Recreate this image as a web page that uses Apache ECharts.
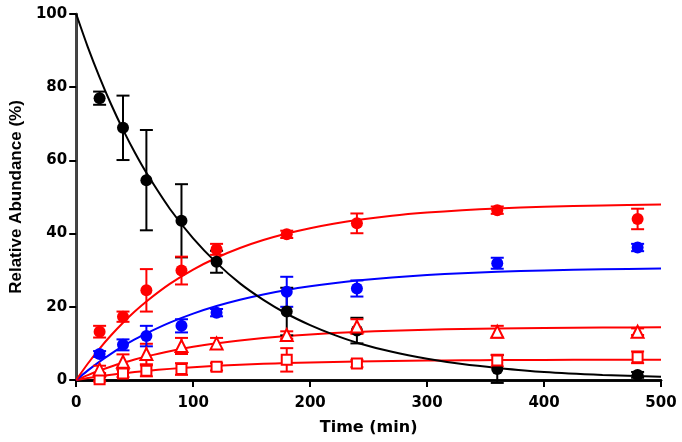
<!DOCTYPE html>
<html>
<head>
<meta charset="utf-8">
<script src="https://cdn.jsdelivr.net/npm/echarts@6/dist/echarts.min.js"></script>
<style>html,body{margin:0;padding:0;background:#fff}#c{width:682px;height:442px}</style>
</head>
<body>
<div id="c"></div>
<script>
// Measurement times (min)
var times = [20, 40, 60, 90, 120, 180, 240, 360, 480];
// Measured means and error (±)
var blackMean = [77.0, 68.9, 54.6, 43.5, 32.3, 18.7, 13.5, 3.0, 1.4];
var blackErr  = [1.8, 8.8, 13.7, 10.0, 3.0, 6.5, 3.5, 3.8, 0.8];
var redMean   = [13.2, 17.3, 24.5, 29.9, 35.7, 39.8, 42.8, 46.4, 44.0];
var redErr    = [1.6, 1.4, 5.8, 3.8, 1.5, 1.0, 2.7, 1.0, 2.8];
var blueMean  = [7.1, 9.6, 12.0, 14.8, 18.4, 24.1, 25.0, 31.9, 36.2];
var blueErr   = [0.8, 1.5, 2.8, 1.8, 1.0, 4.1, 2.2, 1.5, 1.0];
var triMean   = [2.9, 5.0, 7.1, 9.3, 10.0, 12.3, 14.6, 13.2, 13.2];
var triErr    = [1.0, 2.0, 2.8, 2.2, 1.5, 1.0, 2.0, 1.6, 0.9];
var sqMean    = [0.2, 1.8, 2.5, 3.0, 3.6, 5.5, 4.5, 5.3, 6.2];
var sqErr     = [0.6, 1.0, 1.5, 1.6, 1.0, 3.2, 1.0, 1.6, 1.6];

// Fitted curves
var curveT     = [0, 10, 20, 30, 40, 50, 60, 80, 100, 120, 140, 160, 180, 200, 220, 240, 270, 300, 330, 360, 400, 450, 500];
var blackCurve = [100, 90.9, 82.7, 75.2, 68.4, 62.2, 56.6, 46.8, 38.7, 32.0, 26.4, 21.9, 18.1, 15.0, 12.4, 10.2, 7.7, 5.8, 4.35, 3.3, 2.2, 1.4, 0.87];
var redCurve   = [0, 4.51, 8.60, 12.30, 15.66, 18.71, 21.47, 26.25, 30.17, 33.40, 36.05, 38.23, 40.02, 41.49, 42.71, 43.70, 44.87, 45.74, 46.40, 46.88, 47.34, 47.71, 47.94];
var blueCurve  = [0, 2.62, 5.03, 7.22, 9.23, 11.07, 12.75, 15.69, 18.15, 20.21, 21.94, 23.38, 24.59, 25.60, 26.45, 27.16, 28.01, 28.67, 29.17, 29.55, 29.93, 30.24, 30.44];
var triCurve   = [0, 1.35, 2.58, 3.69, 4.70, 5.62, 6.45, 7.88, 9.06, 10.03, 10.82, 11.48, 12.01, 12.46, 12.82, 13.12, 13.47, 13.73, 13.93, 14.07, 14.21, 14.32, 14.39];
var sqCurve    = [0, 0.52, 1.00, 1.43, 1.82, 2.17, 2.49, 3.04, 3.50, 3.87, 4.18, 4.43, 4.64, 4.81, 4.95, 5.07, 5.20, 5.30, 5.38, 5.44, 5.49, 5.53, 5.56];

var xTicks = [0, 100, 200, 300, 400, 500];
var yTicks = [0, 20, 40, 60, 80, 100];

var RED = '#ff0000', BLUE = '#0000ff', BLACK = '#000000';
var WIDE = 'DejaVu Sans, sans-serif';
var FONT = 'Liberation Sans, Arial, sans-serif';

function pairs(xs, ys) { return xs.map(function (x, i) { return [x, ys[i]]; }); }
function errData(means, errs) { return times.map(function (t, i) { return [t, means[i] - errs[i], means[i] + errs[i]]; }); }

function errSeries(means, errs, color, z) {
  return {
    type: 'custom', z: z, silent: true,
    data: errData(means, errs),
    encode: { x: 0, y: [1, 2] },
    renderItem: function (params, api) {
      var x = api.value(0);
      var lo = api.coord([x, api.value(1)]);
      var hi = api.coord([x, api.value(2)]);
      var w = 6.5;
      var st = { stroke: color, lineWidth: 2 };
      return {
        type: 'group', children: [
          { type: 'line', shape: { x1: lo[0], y1: lo[1], x2: hi[0], y2: hi[1] }, style: st },
          { type: 'line', shape: { x1: lo[0] - w, y1: lo[1], x2: lo[0] + w, y2: lo[1] }, style: st },
          { type: 'line', shape: { x1: hi[0] - w, y1: hi[1], x2: hi[0] + w, y2: hi[1] }, style: st }
        ]
      };
    }
  };
}
function curveSeries(ys, color, z) {
  return { type: 'line', data: pairs(curveT, ys), smooth: 0.3, showSymbol: false, silent: true, z: z,
    lineStyle: { color: color, width: 2 } };
}
function pointSeries(means, symbol, size, color, hollow, z) {
  return { type: 'scatter', data: pairs(times, means), symbol: symbol, symbolSize: size, z: z, silent: true,
    itemStyle: hollow ? { color: '#ffffff', borderColor: color, borderWidth: 2, opacity: 1 } : { color: color, opacity: 1 } };
}

var chart = echarts.init(document.getElementById('c'), null, { renderer: 'canvas' });
chart.setOption({
  animation: false,
  backgroundColor: '#ffffff',
  grid: { left: 75, right: 21, top: 14, bottom: 62 },
  xAxis: [{
    type: 'value', min: xTicks[0], max: xTicks[xTicks.length - 1], interval: 100,
    name: 'Time (min)', nameLocation: 'middle', nameGap: 40,
    nameTextStyle: { fontFamily: WIDE, fontWeight: 'bold', fontSize: 16, color: '#000' },
    axisLine: { lineStyle: { color: '#000', width: 2.5 } },
    axisTick: { show: true, length: 7, lineStyle: { color: '#000', width: 2 } },
    axisLabel: { fontFamily: WIDE, fontWeight: 'bold', fontSize: 15, color: '#000', margin: 16 },
    splitLine: { show: false }
  }, {
    type: 'value', position: 'top', min: 0, max: 500,
    axisLine: { show: true, lineStyle: { color: '#000', width: 2.5 } },
    axisTick: { show: false }, axisLabel: { show: false }, splitLine: { show: false }
  }],
  yAxis: [{
    type: 'value', min: yTicks[0], max: yTicks[yTicks.length - 1], interval: 20,
    name: 'Relative Abundance (%)', nameLocation: 'middle', nameGap: 50,
    nameTextStyle: { fontFamily: FONT, fontWeight: 'bold', fontSize: 17, color: '#000' },
    axisLine: { show: true, lineStyle: { color: '#000', width: 2.5 } },
    axisTick: { show: true, length: 7, lineStyle: { color: '#000', width: 2 } },
    axisLabel: { fontFamily: WIDE, fontWeight: 'bold', fontSize: 15, color: '#000', margin: 9 },
    splitLine: { show: false }
  }, {
    type: 'value', position: 'right', min: 0, max: 100,
    axisLine: { show: true, lineStyle: { color: '#444', width: 2 } },
    axisTick: { show: false }, axisLabel: { show: false }, splitLine: { show: false }
  }],
  series: [
    curveSeries(sqCurve, RED, 2),
    curveSeries(triCurve, RED, 2),
    curveSeries(blueCurve, BLUE, 2),
    curveSeries(redCurve, RED, 2),
    curveSeries(blackCurve, BLACK, 2),
    errSeries(blackMean, blackErr, BLACK, 3),
    errSeries(sqMean, sqErr, RED, 3),
    errSeries(triMean, triErr, RED, 3),
    errSeries(blueMean, blueErr, BLUE, 3),
    errSeries(redMean, redErr, RED, 3),
    pointSeries(blackMean, 'circle', 12, BLACK, false, 4),
    pointSeries(blueMean, 'circle', 12, BLUE, false, 4),
    pointSeries(redMean, 'circle', 12, RED, false, 4),
    pointSeries(sqMean, 'rect', 10, RED, true, 4),
    pointSeries(triMean, 'triangle', 12, RED, true, 4)
  ]
});
</script>
</body>
</html>
